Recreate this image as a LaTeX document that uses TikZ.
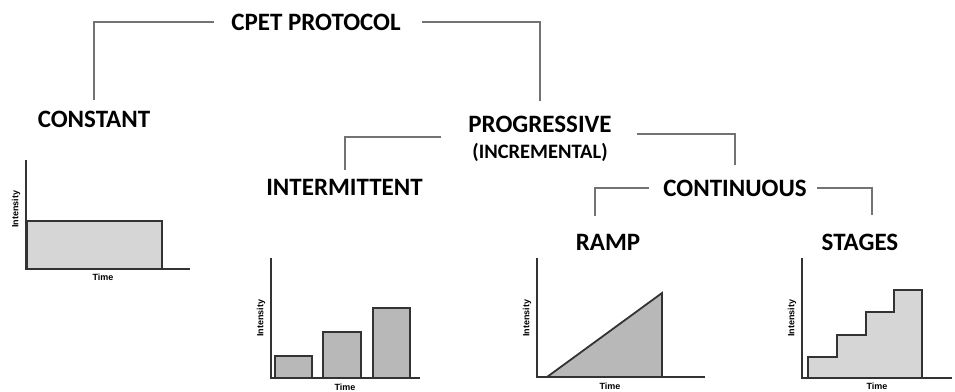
\documentclass[tikz,border=0pt]{standalone}
\usepackage{fontspec}
\setmainfont{Carlito}
\newfontfamily\axisfont{Liberation Sans}
\begin{document}
\begin{tikzpicture}[x=1pt,y=-1pt,
  lbl/.style={font=\fontsize{25}{25}\selectfont\bfseries, inner sep=0pt, anchor=base},
  sublbl/.style={font=\fontsize{20.5}{20.5}\selectfont\bfseries, inner sep=0pt, anchor=base},
  conn/.style={draw=black!55, line width=2pt},
  axisline/.style={draw=black!80, line width=1.8pt},
  darkfill/.style={draw=black!80, line width=1.8pt, fill=black!28},
  lightfill/.style={draw=black!80, line width=1.8pt, fill=black!16},
  axl/.style={font=\axisfont\bfseries\fontsize{9}{9}\selectfont, inner sep=0pt}]
\fill[white] (0,0) rectangle (955,391);
\useasboundingbox (0,0) rectangle (955,391);

% titles
\node[lbl] (cpet) at (316,30) {CPET PROTOCOL};
\node[lbl] (constant) at (94,127) {CONSTANT};
\node[lbl] (progressive) at (540,132) {PROGRESSIVE};
\node[sublbl] (incremental) at (540,158) {(INCREMENTAL)};
\node[lbl] (intermittent) at (344.5,195) {INTERMITTENT};
\node[lbl] (continuous) at (735,196) {CONTINUOUS};
\node[lbl] (ramp) at (608,250) {RAMP};
\node[lbl] (stages) at (860,250) {STAGES};

% connectors
\draw[conn] ([xshift=-17pt]cpet.west) -| ([yshift=10pt]constant.north);
\draw[conn] ([xshift=21pt]cpet.east) -| ([yshift=14pt]progressive.north);
\draw[conn] ([xshift=-27pt,yshift=-13.5pt]progressive.west) -| ([yshift=9pt]intermittent.north);
\draw[conn] ([xshift=25pt,yshift=-10.5pt]progressive.east) -| ([yshift=14pt]continuous.north);
\draw[conn] ([xshift=-14pt]continuous.west) -| ([xshift=-13pt,yshift=18pt]ramp.north);
\draw[conn] ([xshift=10pt]continuous.east) -| ([xshift=12pt,yshift=18pt]stages.north);

% constant chart
\filldraw[lightfill] (27,269) rectangle (162,221);
\draw[axisline] (26,160) -- (26,269) -- (190,269);
\node[axl] (time1) at (103,277) {Time};
\node[axl, rotate=90] (int1) at (16,209) {Intensity};

% intermittent chart
\filldraw[darkfill] (275,378) rectangle (312,356);
\filldraw[darkfill] (323,378) rectangle (361,332);
\filldraw[darkfill] (373,378) rectangle (410,308);
\draw[axisline] (271,258) -- (271,378) -- (420,378);
\node[axl] (time2) at (345,387) {Time};
\node[axl, rotate=90] (int2) at (261,318) {Intensity};

% ramp chart
\filldraw[darkfill] (547,377) -- (662,293) -- (662,377) -- cycle;
\draw[axisline] (537,258) -- (537,377) -- (705,377);
\node[axl] (time3) at (610,386) {Time};
\node[axl, rotate=90] (int3) at (527,318) {Intensity};

% stages chart
\filldraw[lightfill] (808,378) -- (808,357) -- (837,357) -- (837,335) -- (866,335)
  -- (866,312) -- (894,312) -- (894,290) -- (922,290) -- (922,378) -- cycle;
\draw[axisline] (802,258) -- (802,378) -- (952,378);
\node[axl] (time4) at (877,386) {Time};
\node[axl, rotate=90] (int4) at (792,318) {Intensity};
\end{tikzpicture}
\end{document}
